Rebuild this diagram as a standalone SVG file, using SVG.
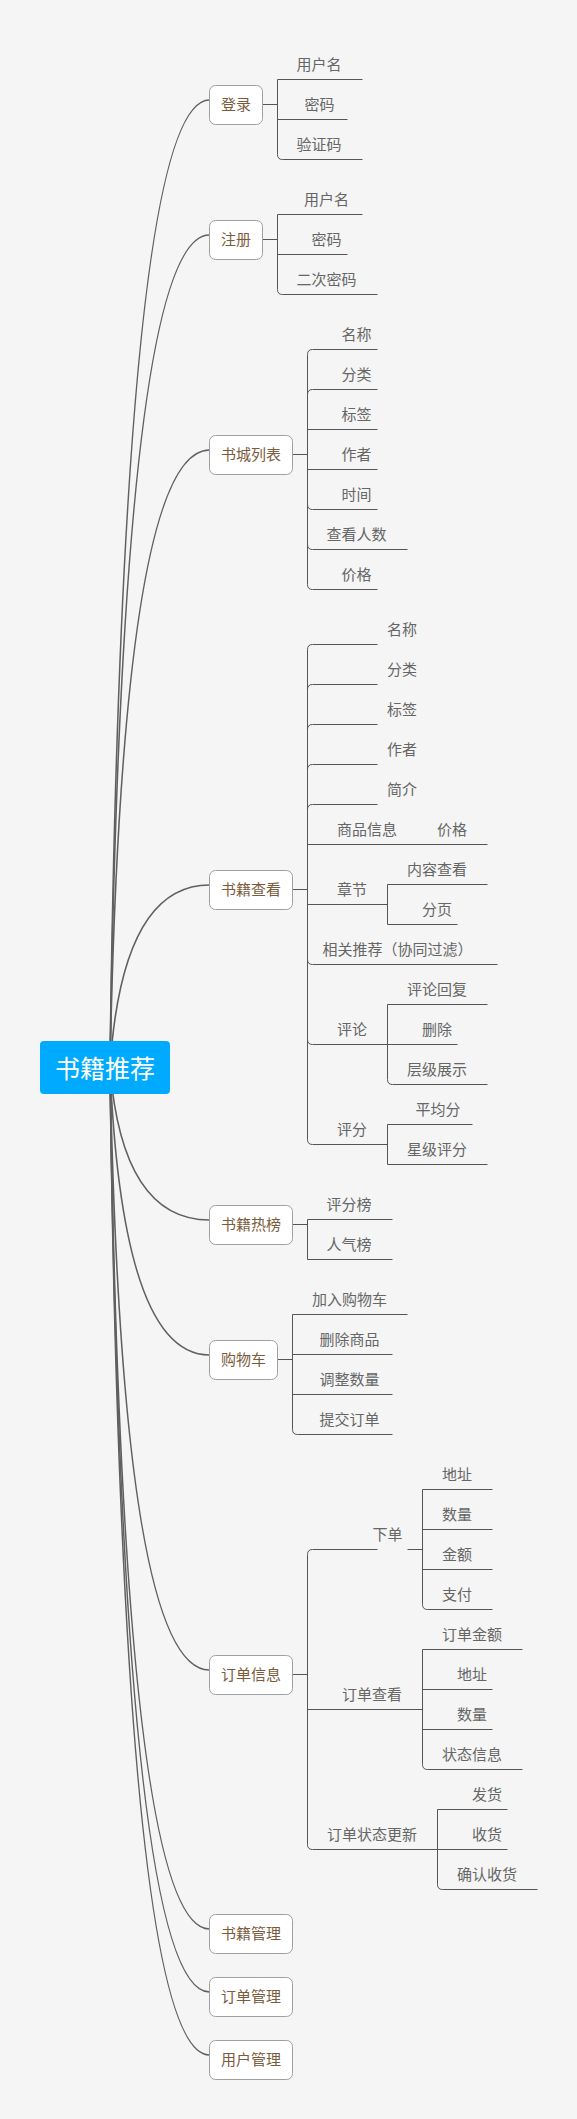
<svg xmlns="http://www.w3.org/2000/svg" width="577" height="2119" viewBox="0 0 577 2119">
<style>
.bg{fill:#f5f5f5}
.curve{fill:none;stroke:#606060;stroke-width:1.6}
.ln{fill:none;stroke:#555;stroke-width:1}
.box{fill:#fff;stroke:#a0a0a0;stroke-width:1}
.nt{font-family:"Noto Sans CJK SC","Microsoft YaHei",sans-serif;font-size:15px;fill:#7a5c3d;text-anchor:middle}
.ct{font-family:"Noto Sans CJK SC","Microsoft YaHei",sans-serif;font-size:15px;fill:#666;text-anchor:middle}
.rt{font-family:"Noto Sans CJK SC","Microsoft YaHei",sans-serif;font-size:25px;fill:#fff;text-anchor:middle}
</style>
<rect class="bg" x="0" y="0" width="577" height="2119"/>
<g id="connectors">
<path class="curve" d="M110 1067 Q122 100 209.5 100"/>
<path class="curve" d="M110 1067 Q122 235 209.5 235"/>
<path class="curve" d="M110 1067 Q122 450 209.5 450"/>
<path class="curve" d="M110 1067 Q122 885 209.5 885"/>
<path class="curve" d="M110 1067 Q122 1220 209.5 1220"/>
<path class="curve" d="M110 1067 Q122 1355 209.5 1355"/>
<path class="curve" d="M110 1067 Q122 1670 209.5 1670"/>
<path class="curve" d="M110 1067 Q122 1929 209.5 1929"/>
<path class="curve" d="M110 1067 Q122 1992 209.5 1992"/>
<path class="curve" d="M110 1067 Q122 2055 209.5 2055"/>
<!-- 登录 -->
<path class="ln" d="M262.5 104.5 H277.5 M277.5 79.5 V154.5 M277.5 79.5 H362.5 M277.5 119.5 H347.5 M277.5 154.5 Q277.5 159.5 282.5 159.5 H362.5"/>
<!-- 注册 -->
<path class="ln" d="M262.5 239.5 H277.5 M277.5 214.5 V289.5 M277.5 214.5 H362.5 M277.5 254.5 H347.5 M277.5 289.5 Q277.5 294.5 282.5 294.5 H377.5"/>
<!-- 书城列表 -->
<path class="ln" d="M292.5 454.5 H307.5 M307.5 354.5 V584.5 M307.5 354.5 Q307.5 349.5 312.5 349.5 H377.5 M307.5 394.5 Q307.5 389.5 312.5 389.5 H377.5 M307.5 429.5 H377.5 M307.5 469.5 H377.5 M307.5 504.5 Q307.5 509.5 312.5 509.5 H377.5 M307.5 544.5 Q307.5 549.5 312.5 549.5 H407.5 M307.5 584.5 Q307.5 589.5 312.5 589.5 H377.5"/>
<!-- 书籍查看 -->
<path class="ln" d="M292.5 889.5 H307.5 M307.5 649.5 V1139.5 M307.5 649.5 Q307.5 644.5 312.5 644.5 H377.5 M307.5 689.5 Q307.5 684.5 312.5 684.5 H377.5 M307.5 729.5 Q307.5 724.5 312.5 724.5 H377.5 M307.5 769.5 Q307.5 764.5 312.5 764.5 H377.5 M307.5 809.5 Q307.5 804.5 312.5 804.5 H377.5 M307.5 844.5 H487.5 M307.5 904.5 H387.5 M387.5 884.5 V924.5 M387.5 884.5 H487.5 M387.5 924.5 H457.5 M307.5 959.5 Q307.5 964.5 312.5 964.5 H497.5 M307.5 1039.5 Q307.5 1044.5 312.5 1044.5 H457.5 M387.5 1004.5 V1079.5 M387.5 1004.5 H487.5 M387.5 1079.5 Q387.5 1084.5 392.5 1084.5 H487.5 M307.5 1139.5 Q307.5 1144.5 312.5 1144.5 H387.5 M387.5 1124.5 V1164.5 M387.5 1124.5 H472.5 M387.5 1164.5 H487.5"/>
<!-- 书籍热榜 -->
<path class="ln" d="M292.5 1224.5 H307.5 M307.5 1219.5 V1259.5 M307.5 1219.5 H392.5 M307.5 1259.5 H392.5"/>
<!-- 购物车 -->
<path class="ln" d="M277.5 1359.5 H292.5 M292.5 1314.5 V1429.5 M292.5 1314.5 H407.5 M292.5 1354.5 H392.5 M292.5 1394.5 H392.5 M292.5 1429.5 Q292.5 1434.5 297.5 1434.5 H392.5"/>
<!-- 订单信息 -->
<path class="ln" d="M292.5 1674.5 H307.5 M307.5 1554.5 V1844.5 M307.5 1554.5 Q307.5 1549.5 312.5 1549.5 H377.5 M407.5 1549.5 H422.5 M422.5 1489.5 V1604.5 M422.5 1489.5 H492.5 M422.5 1529.5 H492.5 M422.5 1569.5 H492.5 M422.5 1604.5 Q422.5 1609.5 427.5 1609.5 H492.5 M307.5 1709.5 H422.5 M422.5 1649.5 V1764.5 M422.5 1649.5 H522.5 M422.5 1689.5 H492.5 M422.5 1729.5 H492.5 M422.5 1764.5 Q422.5 1769.5 427.5 1769.5 H522.5 M307.5 1844.5 Q307.5 1849.5 312.5 1849.5 H507.5 M437.5 1809.5 V1884.5 M437.5 1809.5 H507.5 M437.5 1884.5 Q437.5 1889.5 442.5 1889.5 H537.5"/>
</g>
<g id="root">
<rect x="40" y="1041" width="130" height="53" rx="4" fill="#00aaff"/>
<text class="rt" x="105" y="1078">书籍推荐</text>
</g>
<g id="n-login">
<rect class="box" x="209.5" y="85.5" width="53" height="39" rx="6"/>
<text class="nt" x="236" y="109.5">登录</text>
<text class="ct" x="319" y="69.5">用户名</text>
<text class="ct" x="319.5" y="109.5">密码</text>
<text class="ct" x="319" y="149.5">验证码</text>
</g>
<g id="n-register">
<rect class="box" x="209.5" y="220.5" width="53" height="39" rx="6"/>
<text class="nt" x="236" y="244.5">注册</text>
<text class="ct" x="326.5" y="204.5">用户名</text>
<text class="ct" x="326.5" y="244.5">密码</text>
<text class="ct" x="326.5" y="284.5">二次密码</text>
</g>
<g id="n-list">
<rect class="box" x="209.5" y="435.5" width="83" height="39" rx="6"/>
<text class="nt" x="251" y="459.5">书城列表</text>
<text class="ct" x="356.5" y="339.5">名称</text>
<text class="ct" x="356.5" y="379.5">分类</text>
<text class="ct" x="356.5" y="419.5">标签</text>
<text class="ct" x="356.5" y="459.5">作者</text>
<text class="ct" x="356.5" y="499.5">时间</text>
<text class="ct" x="356.5" y="539.5">查看人数</text>
<text class="ct" x="356.5" y="579.5">价格</text>
</g>
<g id="n-view">
<rect class="box" x="209.5" y="870.5" width="83" height="39" rx="6"/>
<text class="nt" x="251" y="894.5">书籍查看</text>
<text class="ct" x="402" y="634.5">名称</text>
<text class="ct" x="402" y="674.5">分类</text>
<text class="ct" x="402" y="714.5">标签</text>
<text class="ct" x="402" y="754.5">作者</text>
<text class="ct" x="402" y="794.5">简介</text>
<text class="ct" x="367" y="834.5">商品信息</text>
<text class="ct" x="452" y="834.5">价格</text>
<text class="ct" x="352" y="894.5">章节</text>
<text class="ct" x="437" y="874.5">内容查看</text>
<text class="ct" x="437" y="914.5">分页</text>
<text class="ct" x="397.5" y="954.5">相关推荐（协同过滤）</text>
<text class="ct" x="352" y="1034.5">评论</text>
<text class="ct" x="437" y="994.5">评论回复</text>
<text class="ct" x="437" y="1034.5">删除</text>
<text class="ct" x="437" y="1074.5">层级展示</text>
<text class="ct" x="352" y="1134.5">评分</text>
<text class="ct" x="438" y="1114.5">平均分</text>
<text class="ct" x="437" y="1154.5">星级评分</text>
</g>
<g id="n-hot">
<rect class="box" x="209.5" y="1205.5" width="83" height="39" rx="6"/>
<text class="nt" x="251" y="1229.5">书籍热榜</text>
<text class="ct" x="349" y="1209.5">评分榜</text>
<text class="ct" x="349" y="1249.5">人气榜</text>
</g>
<g id="n-cart">
<rect class="box" x="209.5" y="1340.5" width="68" height="39" rx="6"/>
<text class="nt" x="243.5" y="1364.5">购物车</text>
<text class="ct" x="349.5" y="1304.5">加入购物车</text>
<text class="ct" x="349.5" y="1344.5">删除商品</text>
<text class="ct" x="349.5" y="1384.5">调整数量</text>
<text class="ct" x="349.5" y="1424.5">提交订单</text>
</g>
<g id="n-order">
<rect class="box" x="209.5" y="1655.5" width="83" height="39" rx="6"/>
<text class="nt" x="251" y="1679.5">订单信息</text>
<text class="ct" x="387.5" y="1539.5">下单</text>
<text class="ct" x="457" y="1479.5">地址</text>
<text class="ct" x="457" y="1519.5">数量</text>
<text class="ct" x="457" y="1559.5">金额</text>
<text class="ct" x="457" y="1599.5">支付</text>
<text class="ct" x="372" y="1699.5">订单查看</text>
<text class="ct" x="472" y="1639.5">订单金额</text>
<text class="ct" x="472" y="1679.5">地址</text>
<text class="ct" x="472" y="1719.5">数量</text>
<text class="ct" x="472" y="1759.5">状态信息</text>
<text class="ct" x="372" y="1839.5">订单状态更新</text>
<text class="ct" x="487" y="1799.5">发货</text>
<text class="ct" x="487" y="1839.5">收货</text>
<text class="ct" x="487" y="1879.5">确认收货</text>
</g>
<g id="n-bookmgr">
<rect class="box" x="209.5" y="1914.5" width="83" height="39" rx="6"/>
<text class="nt" x="251" y="1938.5">书籍管理</text>
</g>
<g id="n-ordermgr">
<rect class="box" x="209.5" y="1977.5" width="83" height="39" rx="6"/>
<text class="nt" x="251" y="2001.5">订单管理</text>
</g>
<g id="n-usermgr">
<rect class="box" x="209.5" y="2040.5" width="83" height="39" rx="6"/>
<text class="nt" x="251" y="2064.5">用户管理</text>
</g>
</svg>
